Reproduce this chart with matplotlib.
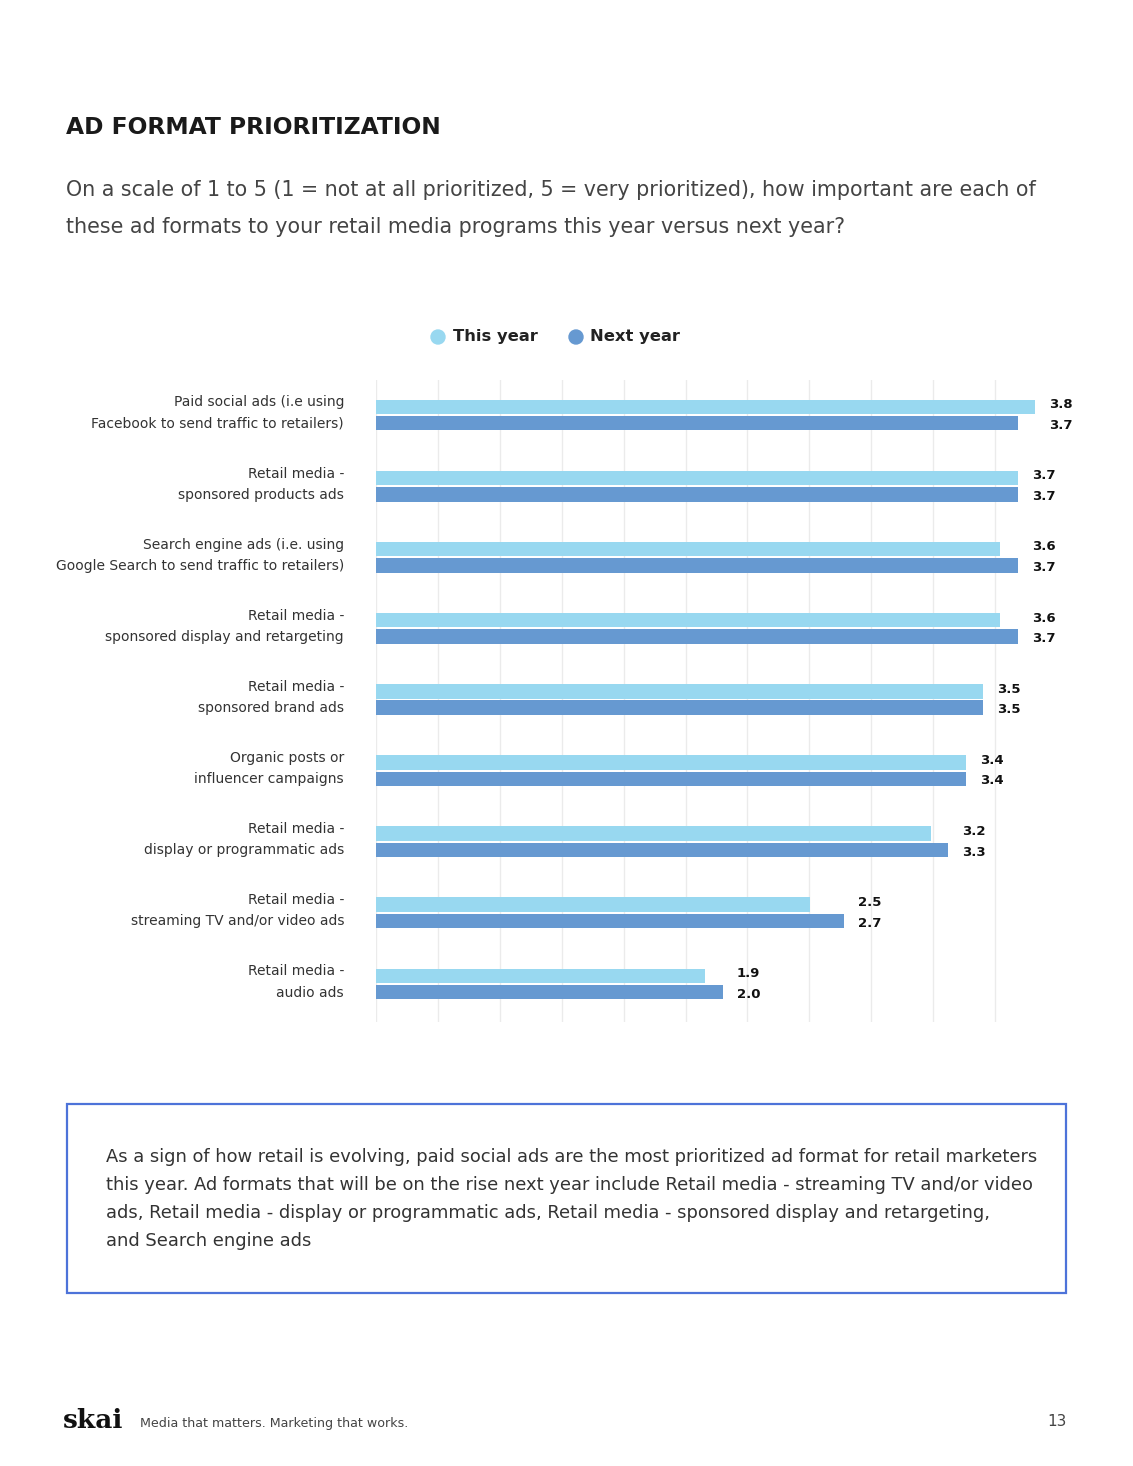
import numpy as np
import matplotlib
matplotlib.use("Agg")
import matplotlib.pyplot as plt
from matplotlib.patches import Rectangle, Ellipse

# chart data
categories = [
    "Paid social ads (i.e using\nFacebook to send traffic to retailers)",
    "Retail media -\nsponsored products ads",
    "Search engine ads (i.e. using\nGoogle Search to send traffic to retailers)",
    "Retail media -\nsponsored display and retargeting",
    "Retail media -\nsponsored brand ads",
    "Organic posts or\ninfluencer campaigns",
    "Retail media -\ndisplay or programmatic ads",
    "Retail media -\nstreaming TV and/or video ads",
    "Retail media -\naudio ads",
]
this_year = [3.8, 3.7, 3.6, 3.6, 3.5, 3.4, 3.2, 2.5, 1.9]
next_year = [3.7, 3.7, 3.7, 3.7, 3.5, 3.4, 3.3, 2.7, 2.0]
series_names = ["This year", "Next year"]

c_this = "#98d8f0"
c_next = "#6699d1"
W, H = 1133, 1466

plt.rcParams['font.family'] = ['DejaVu Sans']

fig = plt.figure(figsize=(W / 100, H / 100), dpi=100)
fig.patch.set_facecolor("white")


def fx(px):
    return px / W


def fy(py):
    return 1 - py / H


# axes placed in pixel terms
ax_left, ax_right, ax_top, ax_bot = 376, 1100, 380, 1022
ax = fig.add_axes([fx(ax_left), fy(ax_bot), fx(ax_right - ax_left), (ax_bot - ax_top) / H])
px_per_unit = 173.4
ax.set_xlim(0, (ax_right - ax_left) / px_per_unit)
grp = 71.1
ax.set_ylim(8 + 38 / grp, -35 / grp)

y = np.arange(len(categories))
bh = 0.205
off = 0.115
ax.barh(y - off, this_year, height=bh, color=c_this, zorder=2)
ax.barh(y + off, next_year, height=bh, color=c_next, zorder=2)

# both value labels of a group share one x, just past the longer bar
for i in range(len(categories)):
    lx = max(this_year[i], next_year[i]) + 0.082
    ax.text(lx, y[i] - off - 0.03, f"{this_year[i]:.1f}", ha="left", va="center",
            fontsize=9.5, fontweight="bold", color="#111111")
    ax.text(lx, y[i] + off + 0.03, f"{next_year[i]:.1f}", ha="left", va="center",
            fontsize=9.5, fontweight="bold", color="#111111")

# light vertical grid
for gx in np.linspace(0, 3.57, 11):
    ax.axvline(gx, color="#ebebeb", lw=1, zorder=1)

ax.set_yticks(y - 0.1)
ax.set_yticklabels(categories, fontsize=10, color="#333333", linespacing=1.65, ha="right")
ax.tick_params(axis="y", length=0, pad=23)
ax.set_xticks([])
for s in ax.spines.values():
    s.set_visible(False)

# titles
fig.text(fx(66), fy(127), "AD FORMAT PRIORITIZATION", fontsize=16.8, fontweight="bold",
         color="#1a1a1a", va="center", ha="left")
fig.text(fx(66), fy(190), "On a scale of 1 to 5 (1 = not at all prioritized, 5 = very prioritized), how important are each of",
         fontsize=14.85, color="#444444", va="center", ha="left")
fig.text(fx(66), fy(227), "these ad formats to your retail media programs this year versus next year?",
         fontsize=14.85, color="#444444", va="center", ha="left")

# legend
for cx, tx, col, name in [(438, 453, c_this, series_names[0]), (576, 590, c_next, series_names[1])]:
    fig.patches.append(Ellipse((fx(cx), fy(337)), 14 / W, 14 / H, transform=fig.transFigure,
                               color=col, figure=fig))
    fig.text(fx(tx), fy(337), name, fontsize=11.8, fontweight="bold", color="#222222",
             va="center", ha="left")

# note box
fig.patches.append(Rectangle((fx(67), fy(1293)), fx(1066 - 67), (1293 - 1104) / H,
                             transform=fig.transFigure, fill=False, edgecolor="#4d73d9",
                             lw=1.6, figure=fig))
note = [
    "As a sign of how retail is evolving, paid social ads are the most prioritized ad format for retail marketers",
    "this year. Ad formats that will be on the rise next year include Retail media - streaming TV and/or video",
    "ads, Retail media - display or programmatic ads, Retail media - sponsored display and retargeting,",
    "and Search engine ads",
]
for k, line in enumerate(note):
    fig.text(fx(106), fy(1157 + 28 * k), line, fontsize=12.85, color="#333333", va="center", ha="left")

# footer
fig.text(fx(63), fy(1420), "skai", fontsize=19, fontweight="bold", family="DejaVu Serif",
         color="#111111", va="center", ha="left")
fig.text(fx(140), fy(1423), "Media that matters. Marketing that works.", fontsize=9.05,
         color="#444444", va="center", ha="left")
fig.text(fx(1067), fy(1422), "13", fontsize=11, color="#444444", va="center", ha="right")

fig.savefig("out.png", dpi=100, facecolor="white")
